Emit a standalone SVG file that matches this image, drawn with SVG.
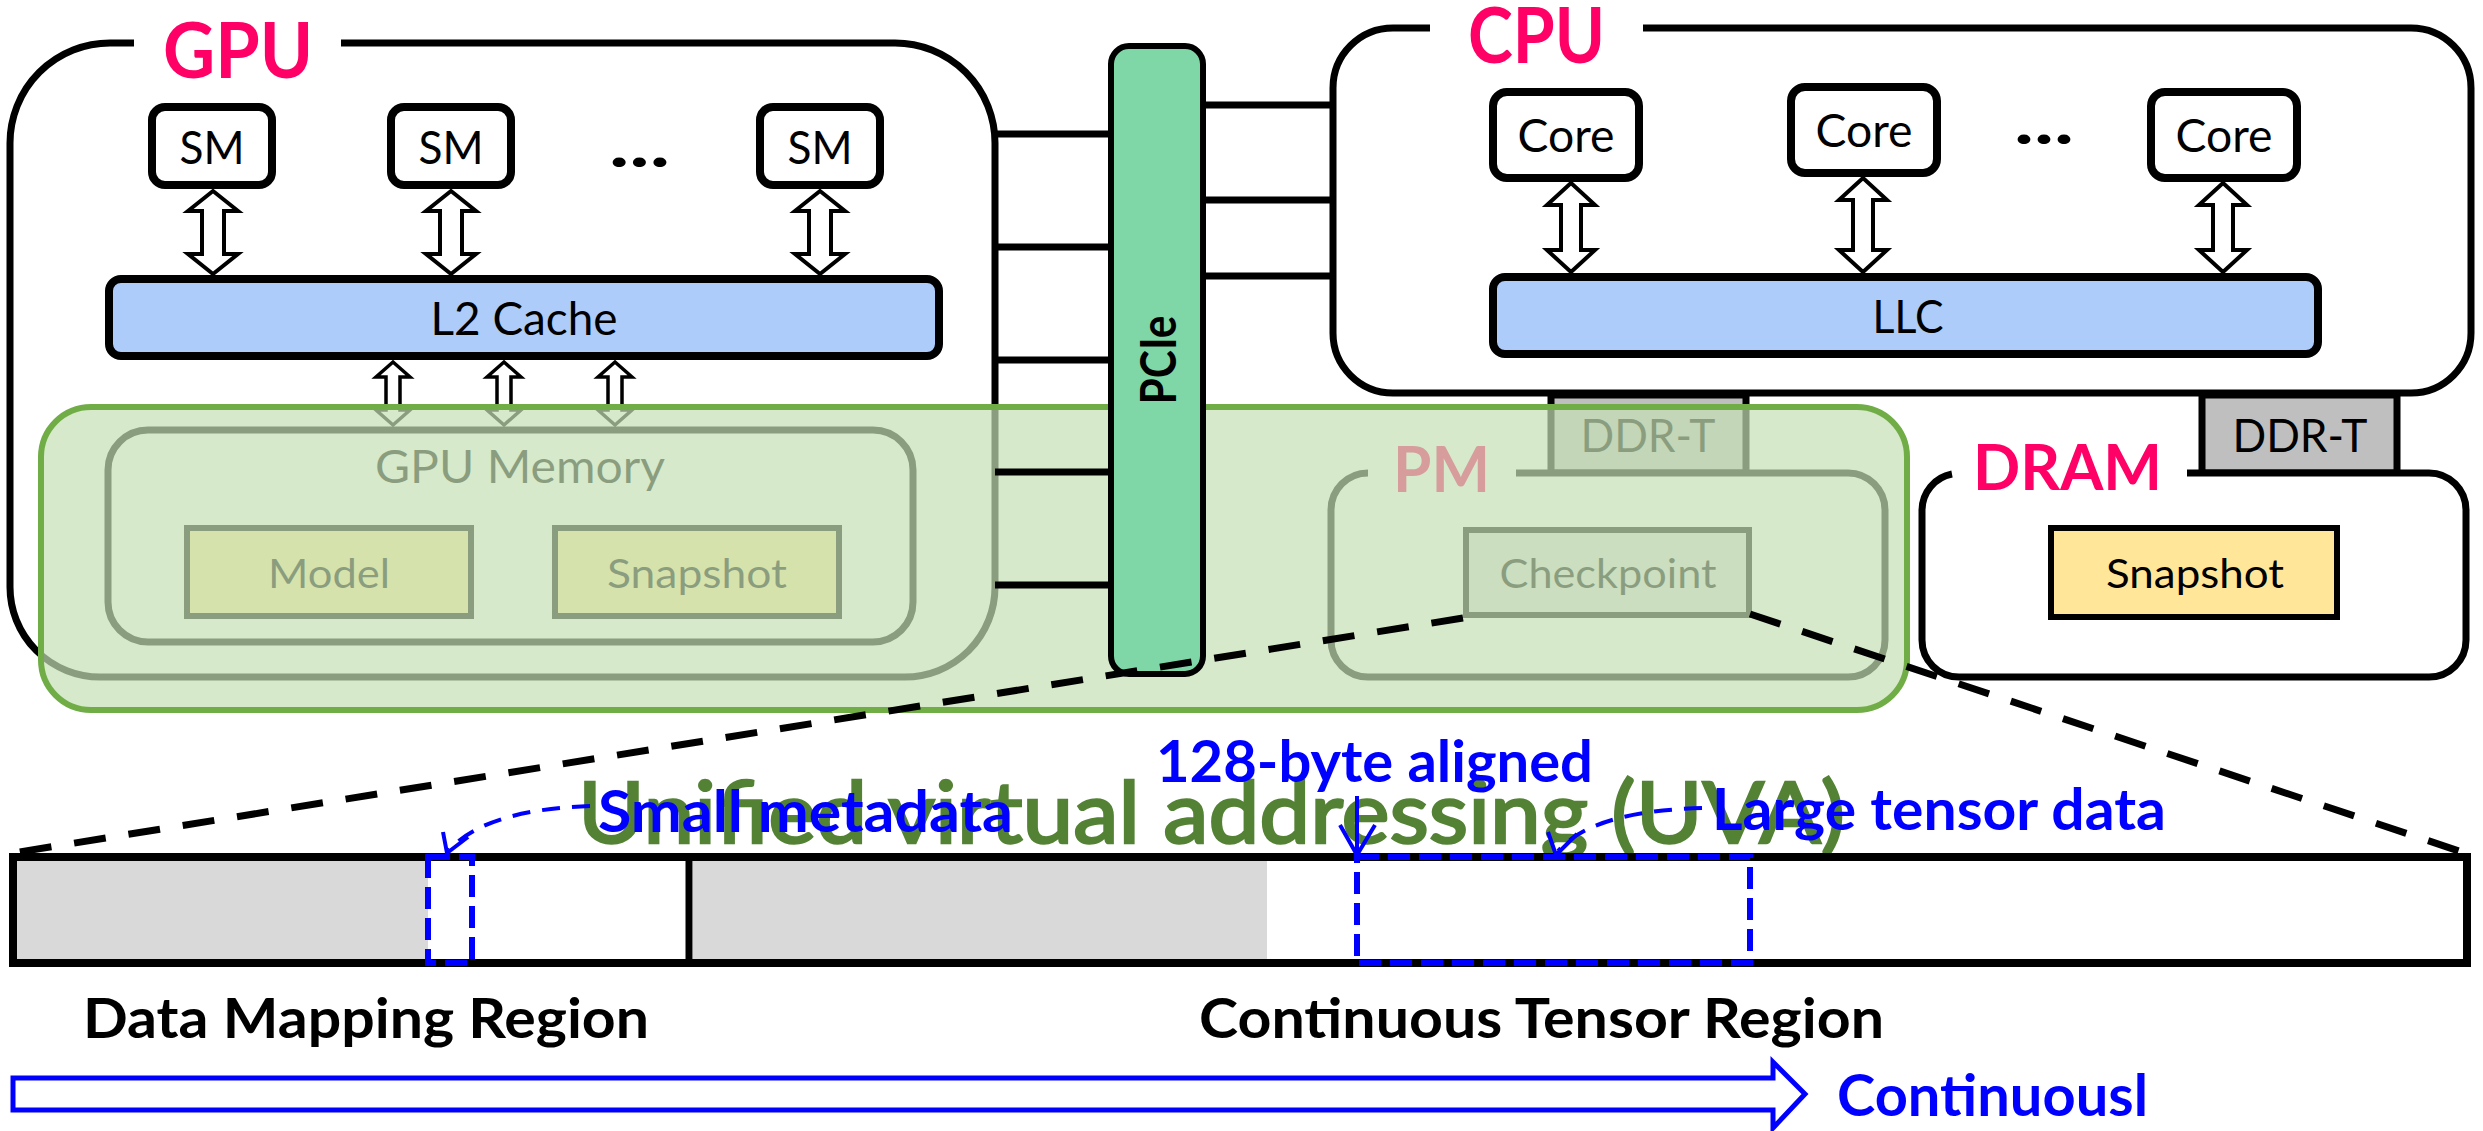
<svg xmlns="http://www.w3.org/2000/svg" width="2483" height="1131" viewBox="0 0 2483 1131">
  <style>
    text { font-family: Lato, "Liberation Sans", sans-serif; }
    .frame { fill: white; stroke: #000; stroke-width: 7; }
    .unit { fill: white; stroke: #000; stroke-width: 8; }
    .cache { fill: #AECCFA; stroke: #000; stroke-width: 8; }
    .dbl { fill: white; stroke: #000; stroke-width: 4; stroke-linejoin: miter; }
    .dbl-s { fill: white; stroke: #000; stroke-width: 3.5; }
    .mem { fill: none; stroke: #000; stroke-width: 7; }
    .blk { stroke: #000; stroke-width: 6; }
    .ddr { fill: #BFBFBF; stroke: #000; stroke-width: 7; }
    .bus { stroke: #000; stroke-width: 7; }
    .lbl { font-size: 46px; fill: #000; text-anchor: middle; }
    .sm { font-size: 41px; fill: #000; text-anchor: middle; }
    .title { font-weight: bold; fill: #FF0066; }
    .zoom { fill: none; stroke: #000; stroke-width: 7; stroke-dasharray: 32 23; }
    .sel { fill: none; stroke: #0000FF; stroke-width: 6; stroke-dasharray: 22 9; }
    .ptr { fill: none; stroke: #0000FF; stroke-width: 4; }
    .ptr-d { fill: none; stroke: #0000FF; stroke-width: 4; stroke-dasharray: 18 12; }
    .blue { font-weight: bold; fill: #0000FF; font-size: 58px; }
    .bold { font-weight: bold; fill: #000; font-size: 56px; }
  </style>

  <!-- GPU -->
  <g id="gpu">
    <path class="frame" d="M 341 43 H 895 A 100 100 0 0 1 995 143 V 587 A 90 90 0 0 1 905 677 H 100 A 90 90 0 0 1 10 587 V 143 A 100 100 0 0 1 110 43 H 134"/>
    <text class="title" x="163" y="78" font-size="77" textLength="150" lengthAdjust="spacingAndGlyphs">GPU</text>
  </g>
  <g id="sm1">
    <rect class="unit" x="152" y="107" width="120" height="78" rx="13"/>
    <text class="lbl" x="212" y="164" textLength="65" lengthAdjust="spacingAndGlyphs">SM</text>
  </g>
  <g id="sm2">
    <rect class="unit" x="391" y="107" width="120" height="78" rx="13"/>
    <text class="lbl" x="451" y="164" textLength="65" lengthAdjust="spacingAndGlyphs">SM</text>
  </g>
  <g id="sm-dots">
    <text x="609" y="167" font-size="64" font-weight="bold" textLength="61" lengthAdjust="spacingAndGlyphs">...</text>
  </g>
  <g id="sm3">
    <rect class="unit" x="760" y="107" width="120" height="78" rx="13"/>
    <text class="lbl" x="820" y="164" textLength="65" lengthAdjust="spacingAndGlyphs">SM</text>
  </g>
  <g id="l2">
    <rect class="cache" x="109" y="279" width="830" height="77" rx="12"/>
    <text class="lbl" x="524" y="335" font-size="48" textLength="187" lengthAdjust="spacingAndGlyphs">L2 Cache</text>
  </g>
  <g id="gpu-memory">
    <rect class="mem" x="108" y="430" width="805" height="212" rx="40"/>
    <text class="lbl" x="520" y="483" textLength="290" lengthAdjust="spacingAndGlyphs">GPU Memory</text>
  </g>
  <g id="model">
    <rect class="blk" fill="#FFE699" x="187" y="528" width="284" height="88"/>
    <text class="sm" x="329" y="588" textLength="122" lengthAdjust="spacingAndGlyphs">Model</text>
  </g>
  <g id="gpu-snapshot">
    <rect class="blk" fill="#FFE699" x="555" y="528" width="284" height="88"/>
    <text class="sm" x="697" y="588" textLength="180" lengthAdjust="spacingAndGlyphs">Snapshot</text>
  </g>

  <!-- CPU -->
  <g id="cpu">
    <path class="frame" d="M 1643 28 H 2411 A 60 60 0 0 1 2471 88 V 333 A 60 60 0 0 1 2411 393 H 1393 A 60 60 0 0 1 1333 333 V 88 A 60 60 0 0 1 1393 28 H 1430"/>
    <text class="title" x="1468" y="63" font-size="77" textLength="137" lengthAdjust="spacingAndGlyphs">CPU</text>
  </g>
  <g id="core1">
    <rect class="unit" x="1493" y="92" width="146" height="86" rx="14"/>
    <text class="lbl" x="1566" y="152" textLength="97" lengthAdjust="spacingAndGlyphs">Core</text>
  </g>
  <g id="core2">
    <rect class="unit" x="1791" y="87" width="146" height="86" rx="14"/>
    <text class="lbl" x="1864" y="147" textLength="97" lengthAdjust="spacingAndGlyphs">Core</text>
  </g>
  <g id="core-dots">
    <text x="2014" y="144" font-size="64" font-weight="bold" textLength="60" lengthAdjust="spacingAndGlyphs">...</text>
  </g>
  <g id="core3">
    <rect class="unit" x="2151" y="92" width="146" height="86" rx="14"/>
    <text class="lbl" x="2224" y="152" textLength="97" lengthAdjust="spacingAndGlyphs">Core</text>
  </g>
  <g id="llc">
    <rect class="cache" x="1493" y="277" width="825" height="77" rx="12"/>
    <text class="lbl" x="1908" y="333" textLength="71" lengthAdjust="spacingAndGlyphs">LLC</text>
  </g>

  <!-- memory modules -->
  <g id="ddrt-pm">
    <rect class="ddr" x="1551" y="395" width="195" height="78"/>
    <text class="lbl" x="1648" y="452" textLength="135" lengthAdjust="spacingAndGlyphs">DDR-T</text>
  </g>
  <g id="pm">
    <path class="frame" fill="none" d="M 1516 473 H 1848 A 37 37 0 0 1 1885 510 V 640 A 37 37 0 0 1 1848 677 H 1368 A 37 37 0 0 1 1331 640 V 510 A 37 37 0 0 1 1368 473"/>
    <text class="title" x="1393" y="492" font-size="64" textLength="97" lengthAdjust="spacingAndGlyphs">PM</text>
  </g>
  <g id="checkpoint">
    <rect class="blk" fill="#D9D9D9" x="1466" y="530" width="283" height="85"/>
    <text class="sm" x="1608" y="588" textLength="217" lengthAdjust="spacingAndGlyphs">Checkpoint</text>
  </g>
  <g id="ddrt-dram">
    <rect class="ddr" x="2202" y="395" width="195" height="78"/>
    <text class="lbl" x="2300" y="452" textLength="135" lengthAdjust="spacingAndGlyphs">DDR-T</text>
  </g>
  <g id="dram">
    <path class="frame" d="M 2187 473 H 2429 A 37 37 0 0 1 2466 510 V 640 A 37 37 0 0 1 2429 677 H 1959 A 37 37 0 0 1 1922 640 V 510 A 37 37 0 0 1 1952 474"/>
    <text class="title" x="1973" y="490" font-size="64" textLength="189" lengthAdjust="spacingAndGlyphs">DRAM</text>
  </g>
  <g id="dram-snapshot">
    <rect class="blk" fill="#FFE699" x="2051" y="528" width="286" height="89"/>
    <text class="sm" x="2195" y="588" textLength="178" lengthAdjust="spacingAndGlyphs">Snapshot</text>
  </g>

  <!-- on-chip links -->
  <g id="links">
    <polygon class="dbl" points="213,191 238,211 224,211 224,254 238,254 213,274 188,254 202,254 202,211 188,211"/>
    <polygon class="dbl" points="451,191 476,211 462,211 462,254 476,254 451,274 426,254 440,254 440,211 426,211"/>
    <polygon class="dbl" points="820,191 845,211 831,211 831,254 845,254 820,274 795,254 809,254 809,211 795,211"/>
    <polygon class="dbl-s" points="393,362 410,377 400,377 400,410 410,410 393,425 376,410 386,410 386,377 376,377"/>
    <polygon class="dbl-s" points="504,362 521,377 511,377 511,410 521,410 504,425 487,410 497,410 497,377 487,377"/>
    <polygon class="dbl-s" points="615,362 632,377 622,377 622,410 632,410 615,425 598,410 608,410 608,377 598,377"/>
    <polygon class="dbl" points="1571,183 1595,205 1581,205 1581,250 1595,250 1571,272 1547,250 1561,250 1561,205 1547,205"/>
    <polygon class="dbl" points="1863,178 1887,200 1873,200 1873,250 1887,250 1863,272 1839,250 1853,250 1853,200 1839,200"/>
    <polygon class="dbl" points="2223,183 2247,205 2233,205 2233,250 2247,250 2223,272 2199,250 2213,250 2213,205 2199,205"/>
  </g>

  <!-- unified virtual addressing region -->
  <g id="uva">
    <rect x="41" y="407" width="1866" height="303" rx="50" fill="#C5E0B4" fill-opacity="0.7"/>
    <rect x="41" y="407" width="1866" height="303" rx="50" fill="none" stroke="#70AD47" stroke-width="6"/>
  </g>

  <!-- PCIe and its lanes -->
  <g id="connectors">
    <line class="bus" x1="995" y1="134" x2="1111" y2="134"/>
    <line class="bus" x1="995" y1="247" x2="1111" y2="247"/>
    <line class="bus" x1="995" y1="360" x2="1111" y2="360"/>
    <line class="bus" x1="995" y1="472" x2="1111" y2="472"/>
    <line class="bus" x1="995" y1="585" x2="1111" y2="585"/>
    <line class="bus" x1="1203" y1="105" x2="1333" y2="105"/>
    <line class="bus" x1="1203" y1="200" x2="1333" y2="200"/>
    <line class="bus" x1="1203" y1="276" x2="1333" y2="276"/>
  </g>
  <g id="pcie">
    <rect x="1111" y="46" width="92" height="628" rx="18" fill="#7FD7A7" stroke="#000" stroke-width="6"/>
    <text transform="translate(1176,360) rotate(-90)" x="0" y="0" font-size="49" font-weight="bold" text-anchor="middle" textLength="89" lengthAdjust="spacingAndGlyphs">PCIe</text>
  </g>

  <!-- checkpoint layout, zoomed -->
  <g id="zoom-lines">
    <line class="zoom" x1="1463" y1="618" x2="13" y2="853"/>
    <line class="zoom" x1="1750" y1="614" x2="2465" y2="853"/>
  </g>

  <text id="uva-label" x="578" y="843" font-size="86" fill="#548235" stroke="#548235" stroke-width="2.5" textLength="1267" lengthAdjust="spacingAndGlyphs">Unified virtual addressing (UVA)</text>

  <g id="layout-bar">
    <rect x="13" y="857" width="2454" height="106" fill="white"/>
    <rect x="17" y="861" width="411" height="98" fill="#D9D9D9"/>
    <rect x="693" y="861" width="574" height="98" fill="#D9D9D9"/>
    <rect x="13" y="857" width="2454" height="106" fill="none" stroke="#000" stroke-width="8"/>
    <line x1="689" y1="857" x2="689" y2="963" stroke="#000" stroke-width="7"/>
  </g>
  <g id="metadata-slot">
    <rect class="sel" x="428" y="857" width="44" height="106"/>
  </g>
  <g id="tensor-slot">
    <rect class="sel" x="1357" y="857" width="393" height="106"/>
  </g>

  <g id="annotations">
    <path class="ptr-d" d="M 590 806 C 530 808 476 820 449 850"/>
    <polyline class="ptr" points="443,832 447,853 468,837"/>
    <line class="ptr" x1="1357" y1="796" x2="1357" y2="853"/>
    <polyline class="ptr" points="1340,825 1357,855 1375,825"/>
    <path class="ptr-d" d="M 1702 808 C 1640 810 1585 820 1558 851"/>
    <polyline class="ptr" points="1548,832 1556,855 1577,834"/>
    <text class="blue" x="598" y="832" textLength="415" lengthAdjust="spacingAndGlyphs">Small metadata</text>
    <text class="blue" x="1156" y="782" textLength="437" lengthAdjust="spacingAndGlyphs">128-byte aligned</text>
    <text class="blue" x="1712" y="830" textLength="454" lengthAdjust="spacingAndGlyphs">Large tensor data</text>
  </g>

  <g id="region-labels">
    <text class="bold" x="83" y="1038" textLength="566" lengthAdjust="spacingAndGlyphs">Data Mapping Region</text>
    <text class="bold" x="1199" y="1038" textLength="685" lengthAdjust="spacingAndGlyphs">Continuous Tensor Region</text>
  </g>

  <g id="direction">
    <polygon points="13,1078 1773,1078 1773,1062 1805,1094 1773,1128 1773,1110 13,1110" fill="white" stroke="#0000FF" stroke-width="5"/>
    <text class="blue" x="1837" y="1116" textLength="311" lengthAdjust="spacingAndGlyphs">Continuousl</text>
  </g>
</svg>
